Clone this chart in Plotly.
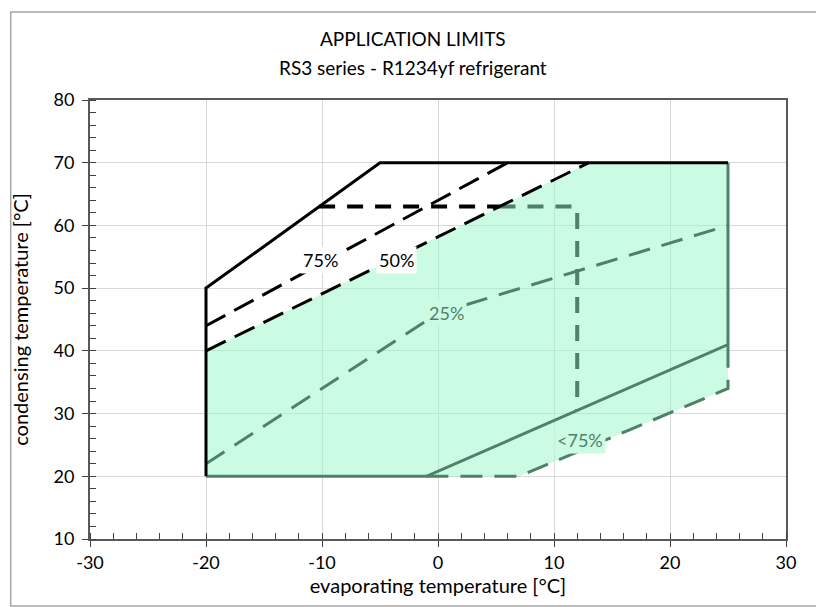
import plotly.graph_objects as go

# envelope corners (evaporating, condensing) in degC
outer_x = [-20, -20, -5, 25]
outer_y = [20, 50, 70, 70]

fill_x = [-20, -20, 13, 25, 25, 7, -20]
fill_y = [20, 40, 70, 70, 34, 20, 20]

line75_x = [-20, 6]
line75_y = [44, 70]
line50_x = [-20, 13]
line50_y = [40, 70]
line25_x = [-20, 0, 25]
line25_y = [22, 46, 60]

limit63_x = [-10.25, 5.3]
limit63_y = [63, 63]
limit63_green_x = [5.3, 12, 12]
limit63_green_y = [63, 63, 30.5]

lt75_x = [-20, -1, 25, 25]
lt75_y = [20, 20, 41, 70]
lower_x = [-1, 7, 25, 25]
lower_y = [20, 20, 34, 41]

label_text = ['75%', '50%', '25%', '<75%']
label_x = [-10.1, -3.6, 0.7, 12.2]
label_y = [54.5, 54.5, 46, 25.8]

x_ticks = [-30, -20, -10, 0, 10, 20, 30]
x_ticklabels = ['-30', '-20', '-10', '0', '10', '20', '30']
y_ticks = [10, 20, 30, 40, 50, 60, 70, 80]

GREEN = '#4f806a'
FILL = 'rgba(153,247,201,0.5)'
FONT = 'Lato'

fig = go.Figure()

fig.add_trace(go.Scatter(x=fill_x, y=fill_y, fill='toself', fillcolor=FILL,
                         mode='none', hoverinfo='skip'))
fig.add_trace(go.Scatter(x=limit63_x, y=limit63_y, mode='lines',
                         line=dict(color='black', width=4, dash='16px,12px')))
fig.add_trace(go.Scatter(x=limit63_green_x, y=limit63_green_y, mode='lines',
                         line=dict(color=GREEN, width=4, dash='16px,12px')))
fig.add_trace(go.Scatter(x=line75_x, y=line75_y, mode='lines',
                         line=dict(color='black', width=3, dash='22px,10px')))
fig.add_trace(go.Scatter(x=line50_x, y=line50_y, mode='lines',
                         line=dict(color='black', width=3, dash='22px,10px')))
fig.add_trace(go.Scatter(x=line25_x, y=line25_y, mode='lines',
                         line=dict(color=GREEN, width=3, dash='22px,12px')))
fig.add_trace(go.Scatter(x=lower_x, y=lower_y, mode='lines',
                         line=dict(color=GREEN, width=3, dash='22px,12px')))
fig.add_trace(go.Scatter(x=lt75_x, y=lt75_y, mode='lines',
                         line=dict(color=GREEN, width=3)))
fig.add_trace(go.Scatter(x=outer_x, y=outer_y, mode='lines',
                         line=dict(color='black', width=3)))

for i, txt in enumerate(label_text):
    green = i >= 2
    fig.add_annotation(x=label_x[i], y=label_y[i], text=txt, showarrow=False,
                       font=dict(family=FONT, size=18, color=GREEN if green else 'black'),
                       bgcolor='rgb(204,251,228)' if green else 'white',
                       borderpad=2)

# chart titles
fig.add_annotation(xref='paper', yref='paper', x=0.464, y=1.1412, text='APPLICATION LIMITS',
                   showarrow=False, yanchor='middle',
                   font=dict(family=FONT, size=19, color='black'))
fig.add_annotation(xref='paper', yref='paper', x=0.464, y=1.0729,
                   text='RS3 series - R1234yf refrigerant',
                   showarrow=False, yanchor='middle',
                   font=dict(family=FONT, size=19, color='black'))

# chart border
fig.add_shape(type='rect', xref='paper', yref='paper', x0=-0.1139, x1=1.0487,
              y0=-0.1526, y1=1.2005, line=dict(color='#a6a6a6', width=1.5))

axis_common = dict(showgrid=True, gridcolor='#d9d9d9', gridwidth=1,
                   showline=True, linecolor='#595959', linewidth=2, mirror=True,
                   ticks='outside', ticklen=6, tickcolor='#404040',
                   tickfont=dict(family=FONT, size=18, color='black'),
                   zeroline=False)

fig.update_xaxes(range=[-30, 30], tickvals=x_ticks, ticktext=x_ticklabels,
                 minor=dict(dtick=2, ticks='inside', ticklen=6, tickcolor='#404040'),
                 title=dict(text='evaporating temperature [°C]',
                            font=dict(family=FONT, size=20, color='black'), standoff=3),
                 **axis_common)
fig.update_yaxes(range=[10, 80], tickvals=y_ticks,
                 minor=dict(dtick=2, ticks='inside', ticklen=6, tickcolor='#404040'),
                 ticklabelstandoff=4,
                 title=dict(text='condensing temperature [°C]',
                            font=dict(family=FONT, size=20, color='black'), standoff=20),
                 **axis_common)

fig.update_layout(
    width=816, height=599,
    margin=dict(l=80, r=38, t=92, b=68),
    paper_bgcolor='white', plot_bgcolor='white',
    showlegend=False,
)

fig.write_html("out.html")
